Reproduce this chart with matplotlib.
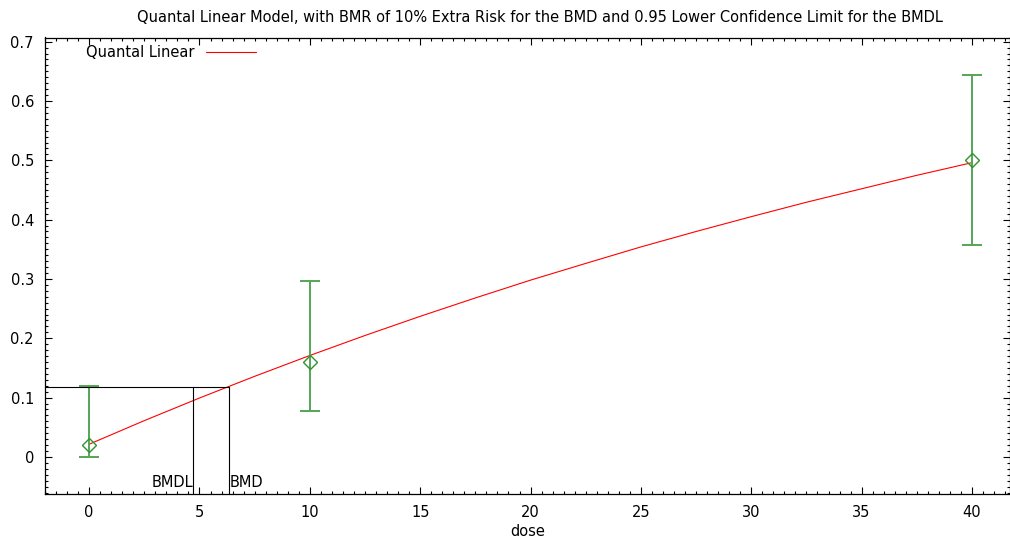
import numpy as np
import matplotlib
matplotlib.use("Agg")
import matplotlib.pyplot as plt
from matplotlib.ticker import MultipleLocator

plt.rcParams['font.family'] = ['DejaVu Sans']

# observed data (dose, proportion responding, confidence limits)
dose = [0, 10, 40]
resp = [0.02, 0.16, 0.50]
lower = [0.0, 0.077, 0.357]
upper = [0.12, 0.297, 0.643]

# fitted quantal linear curve
curve_dose = [0, 2.5, 5, 7.5, 10, 12.5, 15, 17.5, 20, 22.5, 25, 27.5, 30, 32.5, 35, 37.5, 40]
curve_resp = [0.0214, 0.0612, 0.0993, 0.1359, 0.171, 0.2047, 0.237, 0.268, 0.298,
              0.3262, 0.354, 0.380, 0.405, 0.4293, 0.452, 0.4747, 0.496]

bmd = 6.35
bmdl = 4.71
bmr_resp = 0.118

fs = 10.5

fig = plt.figure(figsize=(10.1, 5.42), dpi=100)
ax = fig.add_axes([45 / 1010, 1 - 494 / 542, 964.5 / 1010, (494 - 37.5) / 542])

ax.plot(curve_dose, curve_resp, color='#ff0000', lw=0.8, label='Quantal Linear')

yerr = [np.array(resp) - np.array(lower), np.array(upper) - np.array(resp)]
ax.errorbar(dose, resp, yerr=yerr, fmt='none', ecolor='#55a555', elinewidth=1.4,
            capsize=7.5, capthick=1.4)
ax.plot(dose, resp, ls='none', marker='D', ms=7, mfc='none', mec='#2f922f', mew=1.0)

xmin, xmax = -2, 41.7
ymin, ymax = -0.0625, 0.707

ax.plot([xmin, bmd], [bmr_resp, bmr_resp], color='black', lw=0.8)
ax.plot([bmd, bmd], [ymin, bmr_resp], color='black', lw=0.8)
ax.plot([bmdl, bmdl], [ymin, bmr_resp], color='black', lw=0.8)
ax.text(bmdl, -0.043, 'BMDL', ha='right', va='center', fontsize=fs)
ax.text(bmd, -0.043, 'BMD', ha='left', va='center', fontsize=fs)

ax.set_xlim(xmin, xmax)
ax.set_ylim(ymin, ymax)
ax.xaxis.set_major_locator(MultipleLocator(5))
ax.xaxis.set_minor_locator(MultipleLocator(0.5))
ax.yaxis.set_minor_locator(MultipleLocator(0.01))
ax.set_yticks([0, 0.1, 0.2, 0.3, 0.4, 0.5, 0.6, 0.7])
ax.set_yticklabels(['0', '0.1', '0.2', '0.3', '0.4', '0.5', '0.6', '0.7'])
ax.tick_params(which='both', direction='in', top=True, right=True, labelsize=fs, width=0.8)
ax.tick_params(which='major', length=5)
ax.tick_params(axis='x', which='major', pad=8)
ax.tick_params(axis='y', which='major', pad=8)
ax.tick_params(which='minor', length=2.5)
for s in ax.spines.values():
    s.set_linewidth(0.9)

ax.set_xlabel('dose', fontsize=fs, labelpad=3)
ax.set_title('Quantal Linear Model, with BMR of 10% Extra Risk for the BMD and 0.95 Lower Confidence Limit for the BMDL',
             fontsize=fs, pad=11, x=0.513)
ax.legend(loc='upper left', frameon=False, markerfirst=False, handlelength=3.4,
          fontsize=fs, borderaxespad=0.1, bbox_to_anchor=(0.035, 1.0))

fig.savefig('out.png', dpi=100)
